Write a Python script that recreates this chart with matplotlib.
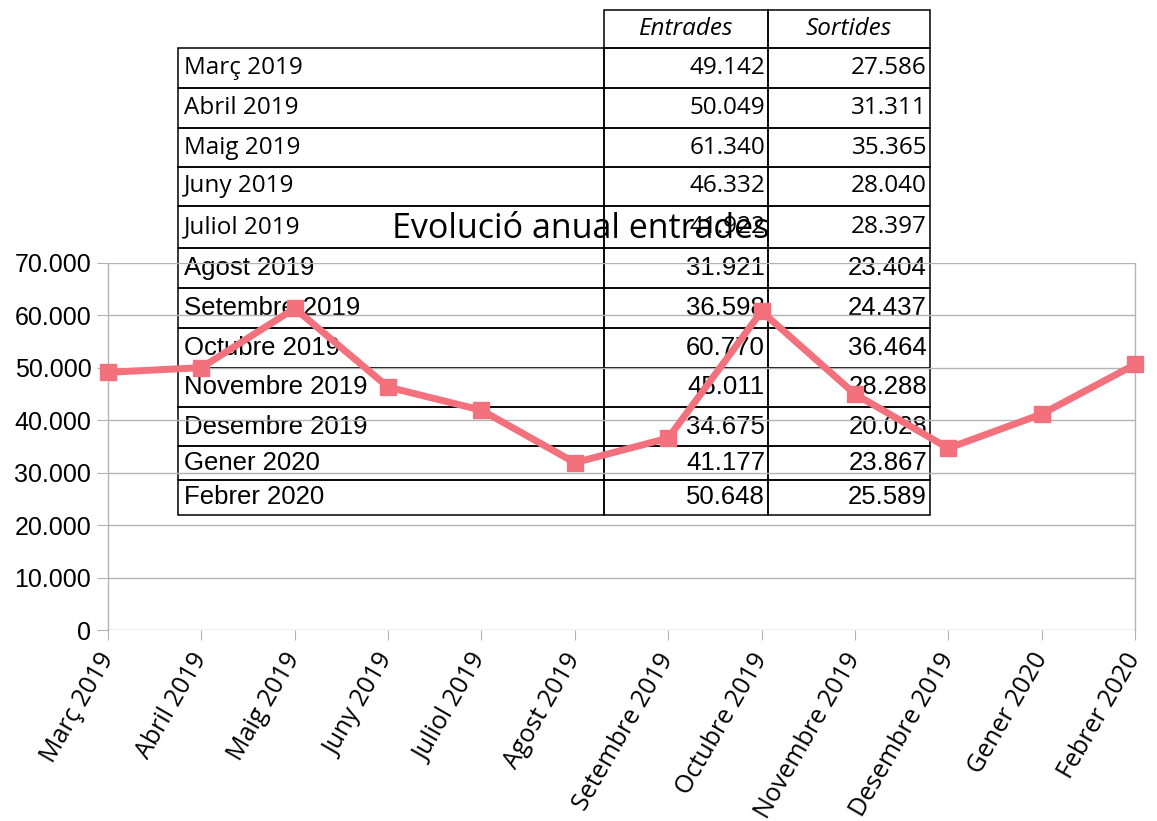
import matplotlib
matplotlib.use("Agg")
import matplotlib.pyplot as plt
from matplotlib.table import Table
from matplotlib.ticker import FuncFormatter

# dades
mesos = ["Març 2019", "Abril 2019", "Maig 2019", "Juny 2019", "Juliol 2019",
         "Agost 2019", "Setembre 2019", "Octubre 2019", "Novembre 2019",
         "Desembre 2019", "Gener 2020", "Febrer 2020"]
entrades = [49142, 50049, 61340, 46332, 41922, 31921, 36598, 60770,
            45011, 34675, 41177, 50648]
sortides = [27586, 31311, 35365, 28040, 28397, 23404, 24437, 36464,
            28288, 20028, 23867, 25589]
capcaleres = ["Entrades", "Sortides"]
titol = "Evolució anual entrades"


def punts(v):
    return f"{int(v):,}".replace(",", ".")


W, H = 1157, 821
fig = plt.figure(figsize=(W / 100, H / 100), dpi=100)
fig.patch.set_facecolor("white")

gris = "#b3b3b3"
color_linia = "#f2717c"

# taula (darrere del grafic)
tax = fig.add_axes([178 / W, 1 - 515 / H, 752 / W, 505 / H], zorder=0)
tax.axis("off")
taula = Table(tax, bbox=[0, 0, 1, 1])
amples = [426, 164, 162]
alt_cap = 38
alts = [40, 40, 39, 39, 42, 40, 40, 40, 39, 39, 34, 35]

c = taula.add_cell(0, 0, amples[0], alt_cap, text="", facecolor="none")
c.visible_edges = ""
for j, nom in enumerate(capcaleres):
    c = taula.add_cell(0, j + 1, amples[j + 1], alt_cap, text=nom,
                       loc="center", facecolor="none")
    c.get_text().set_fontstyle("italic")
    c.get_text().set_fontfamily("Open Sans")
    c.get_text().set_fontsize(17.5)

for i, mes in enumerate(mesos):
    familia = "Open Sans" if i < 5 else "Liberation Sans"
    mida = 17.5 if i < 5 else 18.5
    fila = [mes, punts(entrades[i]), punts(sortides[i])]
    for j, txt in enumerate(fila):
        loc = "left" if j == 0 else "right"
        c = taula.add_cell(i + 1, j, amples[j], alts[i], text=txt,
                           loc=loc, facecolor="none")
        c.PAD = (6 / amples[j]) if j == 0 else (3 / amples[j])
        c.get_text().set_fontfamily(familia)
        c.get_text().set_fontsize(mida)

taula.auto_set_font_size(False)
for cell in taula.get_celld().values():
    cell.set_linewidth(1.1)
    cell.set_edgecolor("black")
    cell.get_text().set_color("black")
tax.add_table(taula)

# grafic de linia
ax = fig.add_axes([108 / W, 1 - 630 / H, 1027 / W, 367 / H], zorder=1)
ax.patch.set_alpha(0)
x = list(range(len(mesos)))
ax.plot(x, entrades, color=color_linia, lw=5, marker="s", markersize=11.5,
        solid_joinstyle="miter", zorder=3, clip_on=False)
ax.set_xlim(0, len(mesos) - 1)
ax.set_ylim(0, 70000)
ax.set_yticks(range(0, 70001, 10000))
ax.yaxis.set_major_formatter(FuncFormatter(lambda v, p: punts(v)))
ax.grid(axis="y", color=gris, lw=1)
ax.set_axisbelow(True)
for s in ["top", "bottom"]:
    ax.spines[s].set_visible(False)
for s in ["left", "right"]:
    ax.spines[s].set_color(gris)
    ax.spines[s].set_linewidth(1)

ax.set_xticks(x)
ax.set_xticklabels(mesos, rotation=60, ha="right", va="center",
                   rotation_mode="anchor", fontsize=18, family="Open Sans")
ax.tick_params(axis="x", length=7, color=gris, pad=11)
ax.tick_params(axis="y", length=8, color=gris, labelsize=18, pad=4)
for t in ax.get_yticklabels():
    t.set_family("Liberation Sans")

fig.text(581 / W, 1 - 229 / H, titol, ha="center", va="center",
         fontsize=24.5, family="Open Sans", zorder=5)

fig.savefig("out.png", dpi=100)
